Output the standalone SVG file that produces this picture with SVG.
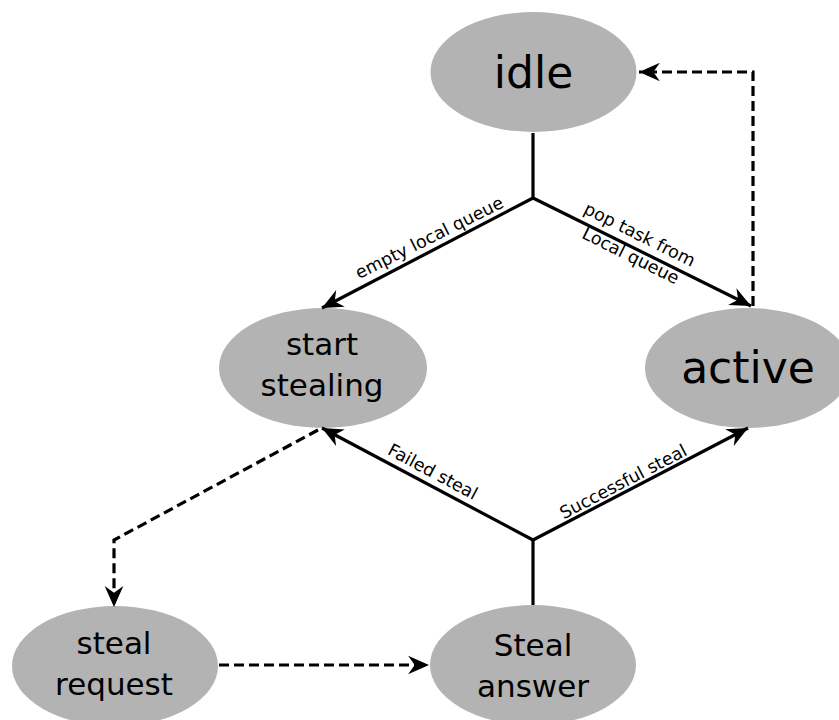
<svg xmlns="http://www.w3.org/2000/svg" width="839" height="720" viewBox="0 0 839 720">
<style>
.node ellipse{fill:#b3b3b3;stroke:none}
.big{font-family:"DejaVu Sans",sans-serif;font-size:44px;fill:#000;text-anchor:middle}
.mid{font-family:"DejaVu Sans",sans-serif;font-size:31px;fill:#000;text-anchor:middle}
.lbl{font-family:"DejaVu Sans",sans-serif;font-size:17.5px;fill:#000;text-anchor:middle}
.edge{fill:none;stroke:#000;stroke-width:3.2}
.dash{stroke-dasharray:10,5}
</style>
<defs>
<marker id="arr" markerUnits="userSpaceOnUse" markerWidth="26" markerHeight="22" viewBox="-21 -10 23 20" refX="0" refY="0" orient="auto">
<path d="M0,0 L-19,-8.5 L-13,0 L-19,8.5 Z" fill="#000"/>
</marker>
</defs>
<rect width="839" height="720" fill="#fff"/>
<g id="idle" class="node"><ellipse cx="533.5" cy="72" rx="103" ry="60"/><text class="big" x="533.5" y="88">idle</text></g>
<g id="active" class="node"><ellipse cx="748" cy="368" rx="103" ry="60"/><text class="big" x="748" y="383">active</text></g>
<g id="start-stealing" class="node"><ellipse cx="323" cy="368" rx="104" ry="60"/><text class="mid" x="322" y="355">start</text><text class="mid" x="322" y="396">stealing</text></g>
<g id="steal-request" class="node"><ellipse cx="115" cy="666" rx="103" ry="60"/><text class="mid" x="114" y="654">steal</text><text class="mid" x="114" y="695">request</text></g>
<g id="steal-answer" class="node"><ellipse cx="533" cy="665" rx="103" ry="60"/><text class="mid" x="533" y="656">Steal</text><text class="mid" x="533" y="697">answer</text></g>
<g id="connectors">
<path class="edge" d="M533,133 V198"/>
<path class="edge" d="M533,198 L322,308" marker-end="url(#arr)"/>
<path class="edge" d="M533,198 L751,306" marker-end="url(#arr)"/>
<path class="edge dash" d="M753,306 V72 H639" marker-end="url(#arr)"/>
<path class="edge" d="M533,605 V540"/>
<path class="edge" d="M533,540 L322,428" marker-end="url(#arr)"/>
<path class="edge" d="M533,540 L748,428" marker-end="url(#arr)"/>
<path class="edge dash" d="M318,430 L114,540 V607" marker-end="url(#arr)"/>
<path class="edge dash" d="M219,665 H429" marker-end="url(#arr)"/>
<text class="lbl" transform="translate(432,243) rotate(-26.5)">empty local queue</text>
<text class="lbl" transform="translate(637,240) rotate(26.5)">pop task from</text>
<text class="lbl" transform="translate(628,261) rotate(26.5)">Local queue</text>
<text class="lbl" transform="translate(430,477) rotate(28)">Failed steal</text>
<text class="lbl" transform="translate(626,487) rotate(-27.5)">Successful steal</text>
</g>
</svg>
